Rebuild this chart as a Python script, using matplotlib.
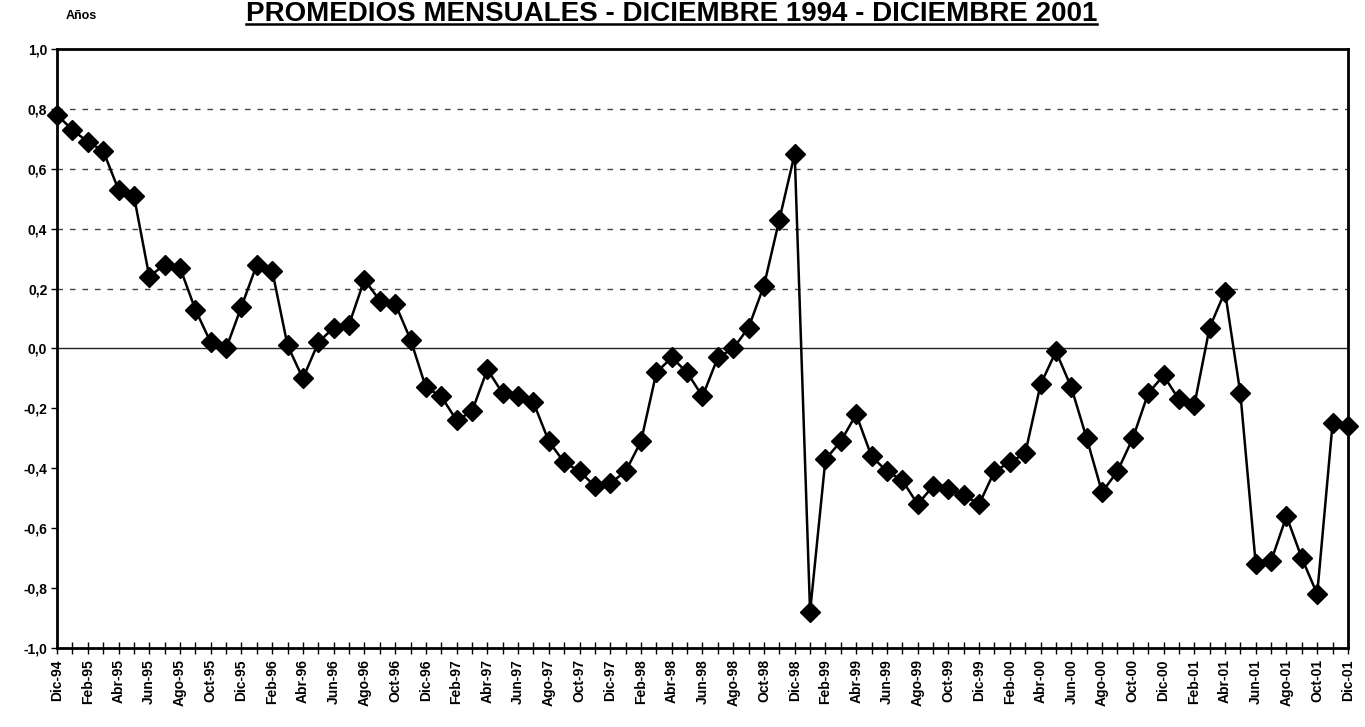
import matplotlib
matplotlib.use("Agg")
import matplotlib.pyplot as plt
from matplotlib.lines import Line2D
from matplotlib.ticker import FixedLocator, FuncFormatter

plt.rcParams['font.family'] = ['Liberation Sans', 'DejaVu Sans']

# Monthly averages, Dic-94 .. Dic-01 (85 months)
meses = list(range(85))
valores = [
    0.78, 0.73, 0.69, 0.66, 0.53, 0.51, 0.24, 0.28, 0.27, 0.13, 0.02, 0.00,
    0.14, 0.28, 0.26, 0.01, -0.10, 0.02, 0.07, 0.08, 0.23, 0.16, 0.15, 0.03,
    -0.13, -0.16, -0.24, -0.21, -0.07, -0.15, -0.16, -0.18, -0.31, -0.38, -0.41, -0.46,
    -0.45, -0.41, -0.31, -0.08, -0.03, -0.08, -0.16, -0.03, 0.00, 0.07, 0.21, 0.43,
    0.65, -0.88, -0.37, -0.31, -0.22, -0.36, -0.41, -0.44, -0.52, -0.46, -0.47, -0.49,
    -0.52, -0.41, -0.38, -0.35, -0.12, -0.01, -0.13, -0.30, -0.48, -0.41, -0.30, -0.15,
    -0.09, -0.17, -0.19, 0.07, 0.19, -0.15, -0.72, -0.71, -0.56, -0.70, -0.82, -0.25,
    -0.26,
]

etiquetas_x = [
    "Dic-94", "Feb-95", "Abr-95", "Jun-95", "Ago-95", "Oct-95",
    "Dic-95", "Feb-96", "Abr-96", "Jun-96", "Ago-96", "Oct-96",
    "Dic-96", "Feb-97", "Abr-97", "Jun-97", "Ago-97", "Oct-97",
    "Dic-97", "Feb-98", "Abr-98", "Jun-98", "Ago-98", "Oct-98",
    "Dic-98", "Feb-99", "Abr-99", "Jun-99", "Ago-99", "Oct-99",
    "Dic-99", "Feb-00", "Abr-00", "Jun-00", "Ago-00", "Oct-00",
    "Dic-00", "Feb-01", "Abr-01", "Jun-01", "Ago-01", "Oct-01",
    "Dic-01",
]
ticks_y = [-1.0, -0.8, -0.6, -0.4, -0.2, 0.0, 0.2, 0.4, 0.6, 0.8, 1.0]
lineas_guia = [0.2, 0.4, 0.6, 0.8]

titulo = "PROMEDIOS MENSUALES - DICIEMBRE 1994 - DICIEMBRE 2001"

fig = plt.figure(figsize=(13.65, 7.27), dpi=100)
ax = fig.add_axes([0.0418, 0.1087, 0.9457, 0.8239])

for g in lineas_guia:
    ax.axhline(g, color="#444444", lw=1.0, linestyle=(0, (4, 5)), zorder=1)
ax.axhline(0.0, color="#222222", lw=1.0, zorder=1)

ax.plot(meses, valores, color="black", lw=1.8, marker="D", markersize=10,
        markerfacecolor="black", markeredgecolor="black", zorder=3,
        clip_on=False)

ax.set_xlim(0, 84)
ax.set_ylim(-1.0, 1.0)

ax.xaxis.set_major_locator(FixedLocator(list(range(0, 85, 2))))
ax.xaxis.set_minor_locator(FixedLocator(list(range(1, 85, 2))))
ax.set_xticklabels(etiquetas_x, rotation=90, fontsize=10, fontweight="bold")
ax.tick_params(axis="x", which="both", direction="inout", length=8, width=1,
               pad=4)

ax.yaxis.set_major_locator(FixedLocator(ticks_y))
ax.yaxis.set_major_formatter(
    FuncFormatter(lambda v, p: f"{v:.1f}".replace(".", ",").replace("-0,0", "0,0")))
ax.tick_params(axis="y", direction="out", length=4, width=1, pad=3,
               labelsize=10)
for lbl in ax.get_yticklabels():
    lbl.set_fontweight("bold")

for s in ax.spines.values():
    s.set_linewidth(2.0)
    s.set_color("black")

fig.text(0.048, 0.978, "Años", fontsize=9, fontweight="bold",
         ha="left", va="center")

t = fig.text(0.492, 1 - 21 / 727, titulo, fontsize=20, fontweight="bold",
             ha="center", va="baseline")
fig.canvas.draw()
bb = t.get_window_extent().transformed(fig.transFigure.inverted())
y_sub = 1 - 24 / 727
fig.add_artist(Line2D([bb.x0, bb.x1], [y_sub, y_sub], color="black", lw=1.8,
                      transform=fig.transFigure))

fig.savefig("out.png", dpi=100)
